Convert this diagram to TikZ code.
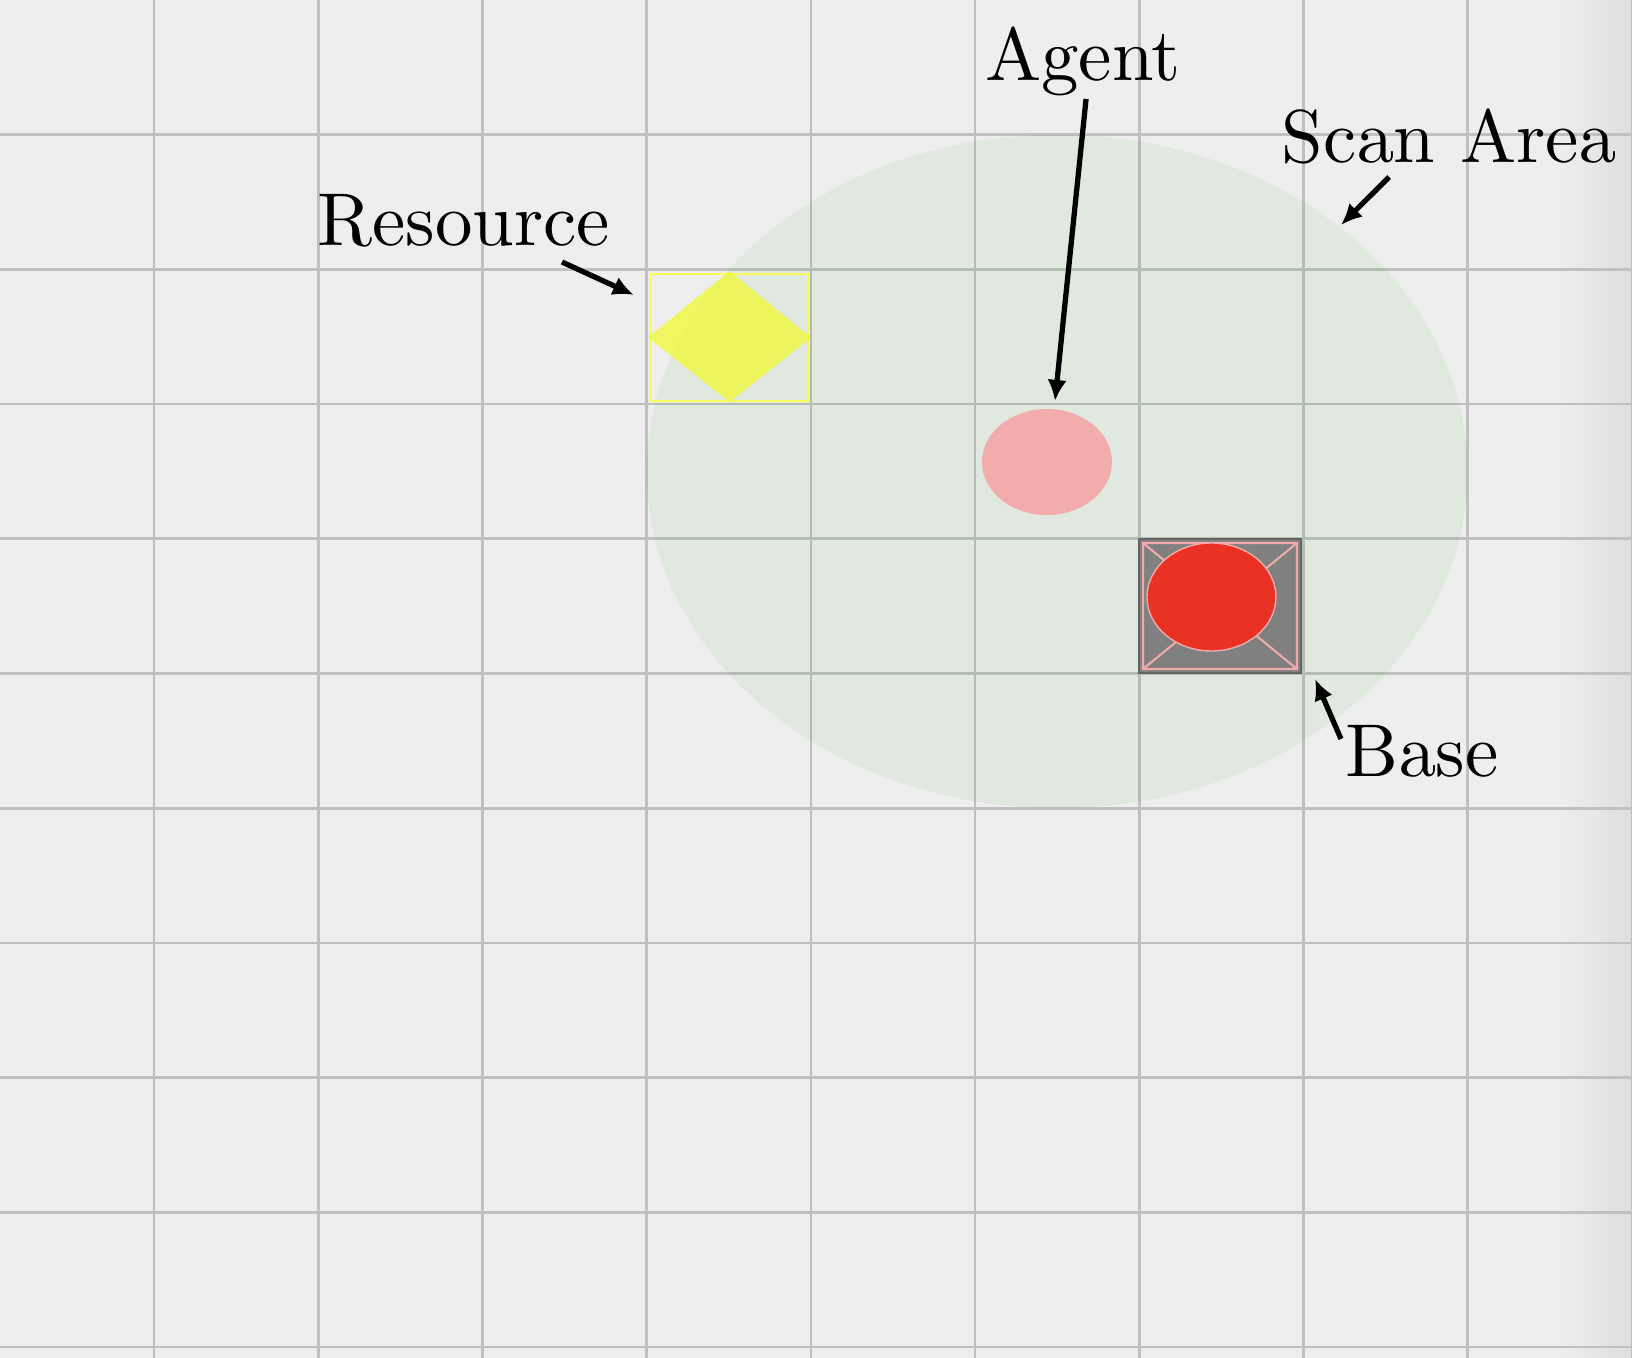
\documentclass[tikz,border=0pt]{standalone}
\usepackage{tikz}
\usetikzlibrary{arrows.meta,shapes.geometric}
\definecolor{paper}{RGB}{238,238,238}
\definecolor{gridgrey}{RGB}{192,192,192}
\definecolor{edgegrey}{RGB}{222,222,222}
\definecolor{scangreen}{RGB}{0,150,0}
\definecolor{resyellow}{RGB}{250,250,90}
\definecolor{resfill}{RGB}{240,248,70}
\definecolor{agentpink}{RGB}{242,172,172}
\definecolor{basegrey}{RGB}{128,128,128}
\definecolor{baseedge}{RGB}{100,100,100}
\definecolor{basepink}{RGB}{240,170,170}
\definecolor{basered}{RGB}{233,50,35}
\font\labelfont=cmr10 at 21.3pt

\begin{document}
\begin{tikzpicture}[x=1.642cm, y=-1.347cm,
  >={Latex[length=6pt,width=5.5pt]},
  every node/.style={font=\labelfont},
  lbl/.style={anchor=base, inner sep=0pt},
  pointer/.style={->, line width=1.5pt},
  gridline/.style={draw=gridgrey, line width=0.75pt},
  thing/.style={inner sep=0pt, outer sep=0pt}]
  \useasboundingbox (0.0621,0) rectangle (10.0012,10.0816);
  \fill[paper] (0.0621,0) rectangle (10.0012,10.0816);
  \shade[left color=paper, right color=edgegrey] (9.56,0) rectangle (10.0012,10.0816);
  % grid
  \foreach \i in {1,...,10}
    \draw[gridline] (\i,0) -- (\i,10.0816);
  \foreach \j in {1,...,10}
    \draw[gridline] (0.0621,\j) -- (10.0012,\j);
  % scan area
  \fill[scangreen, opacity=0.06] (6.5,3.5) ellipse [x radius=2.5, y radius=2.5];
  % resource
  \node[thing, draw=resyellow, line width=0.6pt, minimum width=1.59cm, minimum height=1.27cm]
    (resbox) at (4.505,2.506) {};
  \fill[resfill, opacity=0.85] ([yshift=0.03cm]resbox.north) -- ([xshift=0.02cm]resbox.east)
    -- ([yshift=-0.01cm]resbox.south) -- ([xshift=-0.02cm]resbox.west) -- cycle;
  % agent
  \node[thing, ellipse, fill=agentpink, minimum width=1.30cm, minimum height=1.06cm]
    (agent) at (6.438,3.430) {};
  % base
  \node[thing, fill=basegrey, draw=baseedge, line width=0.6pt, minimum width=1.62cm, minimum height=1.34cm]
    (base) at (7.492,4.499) {};
  \draw[basepink, line width=0.6pt]
    ([shift={(0.04cm,-0.04cm)}]base.north west) rectangle ([shift={(-0.04cm,0.04cm)}]base.south east)
    ([shift={(0.04cm,-0.04cm)}]base.north west) -- ([shift={(-0.04cm,0.04cm)}]base.south east)
    ([shift={(-0.04cm,-0.04cm)}]base.north east) -- ([shift={(0.04cm,0.04cm)}]base.south west);
  \node[thing, ellipse, fill=basered, draw=basepink, line width=0.4pt, minimum width=1.29cm, minimum height=1.08cm]
    (basecore) at (7.440,4.432) {};
  % labels
  \node[lbl] (agentlbl) at (6.658,0.601) {Agent};
  \node[lbl] (reslbl)   at (2.888,1.819) {Resource};
  \node[lbl] (scanlbl)  at (8.887,1.210) {Scan Area};
  \node[lbl] (baselbl)  at (8.722,5.768) {Base};
  % pointers
  \coordinate (agenttip) at (6.487,2.977);
  \coordinate (restip)   at (3.923,2.190);
  \coordinate (scantip)  at (8.229,1.670);
  \coordinate (basetip)  at (8.071,5.041);
  \draw[pointer] ([xshift=0.03cm,yshift=-0.18cm]agentlbl.base) -- (agenttip);
  \draw[pointer] ([xshift=0.98cm,yshift=-0.17cm]reslbl.base) -- (restip);
  \draw[pointer] ([xshift=-0.60cm,yshift=-0.14cm]scanlbl.base) -- (scantip);
  \draw[pointer] ([xshift=-0.81cm,yshift=0.38cm]baselbl.base) -- (basetip);
\end{tikzpicture}
\end{document}
